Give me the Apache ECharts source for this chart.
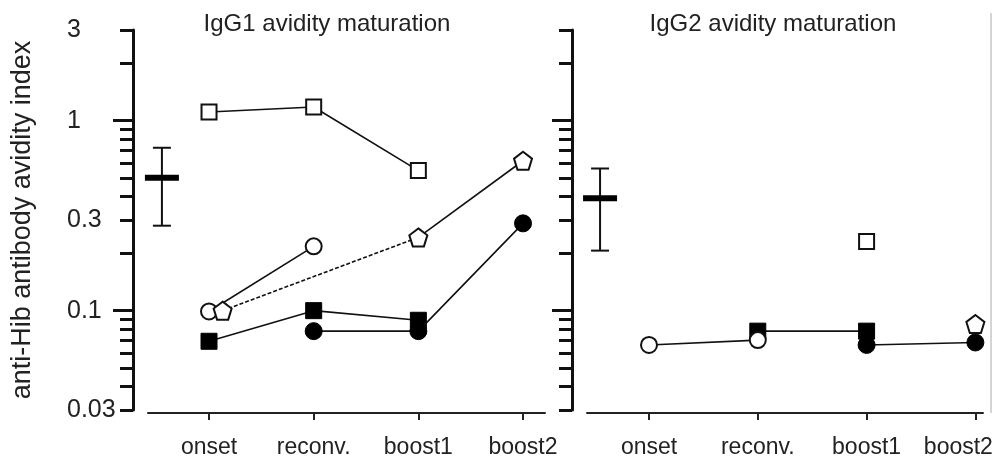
<!DOCTYPE html>
<html>
<head>
<meta charset="utf-8">
<script src="https://cdn.jsdelivr.net/npm/echarts@6/dist/echarts.min.js"></script>
<style>
html,body{margin:0;padding:0;background:#fff;}
#c{width:992px;height:456px;}
</style>
</head>
<body>
<div id="c"></div>
<script>
// ---- data ----
const categories = ['onset', 'reconv.', 'boost1', 'boost2'];
const categoryX = [1, 2, 3, 4];
const yLabelValues = [0.03, 0.1, 0.3, 1, 3];
const yMajorTicks = [0.1, 1];
const yMinorTicks = [0.03, 0.04, 0.05, 0.06, 0.07, 0.08, 0.09,
  0.2, 0.3, 0.4, 0.5, 0.6, 0.7, 0.8, 0.9, 2, 3];

// IgG1 panel (values per category, null = no measurement)
const igg1OpenSquare   = [1.11, 1.18, 0.546, null];
const igg1OpenCircle   = [0.099, 0.218, null, null];
const igg1Pentagon     = [0.1, null, 0.243, 0.615];
const igg1PentagonX    = [1.13, 2, 3, 4];
const igg1FilledSquare = [0.069, 0.1, 0.089, null];
const igg1FilledCircle = [null, 0.078, 0.078, 0.288];
const igg1Reference    = [0.55, 0.5, 0.28, 0.72];   // x, mean, low, high

// IgG2 panel
const igg2OpenCircle   = [0.066, 0.07, null, null];
const igg2FilledSquare = [null, 0.078, 0.078, null];
const igg2FilledCircle = [null, null, 0.066, 0.068];
const igg2OpenSquare   = [null, null, 0.231, null];
const igg2Pentagon     = [null, null, null, 0.085];
const igg2Reference    = [0.55, 0.39, 0.207, 0.56];

// ---- helpers ----
const FONT = '"Liberation Sans", Arial, sans-serif';
const PENTAGON = 'path://M0,-1L0.951,-0.309L0.588,0.809L-0.588,0.809L-0.951,-0.309Z';

function pts(values, xs) {
  xs = xs || categoryX;
  return values.map((v, i) => [xs[i], v === null ? '-' : v]);
}
function nonNull(values, xs) {
  xs = xs || categoryX;
  const out = [];
  values.forEach((v, i) => { if (v !== null) out.push([xs[i], v]); });
  return out;
}

const markerStyles = {
  openSquare:   { symbol: 'rect', symbolSize: 15, itemStyle: { color: '#fff', borderColor: '#111', borderWidth: 2 } },
  openCircle:   { symbol: 'circle', symbolSize: 16, itemStyle: { color: '#fff', borderColor: '#111', borderWidth: 2 } },
  pentagon:     { symbol: PENTAGON, symbolSize: 18, itemStyle: { color: '#fff', borderColor: '#111', borderWidth: 2 } },
  filledSquare: { symbol: 'rect', symbolSize: 16, itemStyle: { color: '#000', borderColor: '#000', borderWidth: 1 } },
  filledCircle: { symbol: 'circle', symbolSize: 17, itemStyle: { color: '#000', borderColor: '#000', borderWidth: 1 } }
};

function lineSeries(name, data, style, gridIdx, z, opts) {
  return Object.assign({
    type: 'line',
    name: name,
    xAxisIndex: gridIdx,
    yAxisIndex: gridIdx * 2,
    data: data,
    connectNulls: false,
    showAllSymbol: true,
    lineStyle: { color: '#111', width: 1.6 },
    z: z,
    animation: false,
    emphasis: { disabled: true }
  }, style, opts || {});
}

function refSeries(ref, gridIdx) {
  return {
    type: 'custom',
    xAxisIndex: gridIdx,
    yAxisIndex: gridIdx * 2,
    data: [ref],
    animation: false,
    renderItem: function (params, api) {
      const x = api.value(0);
      const pm = api.coord([x, api.value(1)]);
      const pl = api.coord([x, api.value(2)]);
      const ph = api.coord([x, api.value(3)]);
      const st = { stroke: '#111', lineWidth: 2 };
      return {
        type: 'group',
        children: [
          { type: 'line', shape: { x1: pl[0], y1: pl[1], x2: ph[0], y2: ph[1] }, style: st },
          { type: 'line', shape: { x1: pl[0] - 9, y1: pl[1], x2: pl[0] + 9, y2: pl[1] }, style: st },
          { type: 'line', shape: { x1: ph[0] - 9, y1: ph[1], x2: ph[0] + 9, y2: ph[1] }, style: st },
          { type: 'rect', shape: { x: pm[0] - 17, y: pm[1] - 3, width: 34, height: 6 }, style: { fill: '#000' } }
        ]
      };
    }
  };
}

function xAxisFor(gridIdx, min, max, shiftLast) {
  return {
    type: 'value', gridIndex: gridIdx, min: min, max: max, offset: 3, position: 'bottom',
    axisLine: { show: true, lineStyle: { color: '#222', width: 2 } },
    axisTick: { show: true, customValues: categoryX, length: 7, lineStyle: { color: '#222', width: 2 } },
    axisLabel: {
      customValues: categoryX, margin: 23, fontSize: 23, color: '#222', fontFamily: FONT,
      hideOverlap: false,
      formatter: function (v) {
        const i = Math.round(v) - 1;
        return (shiftLast && i === categories.length - 1) ? '{last|' + categories[i] + '}' : categories[i];
      },
      rich: { last: { fontSize: 23, color: '#222', fontFamily: FONT, padding: [0, 34, 0, 0] } }
    },
    splitLine: { show: false }
  };
}

function yAxesFor(gridIdx, withLabels) {
  const base = {
    type: 'log', gridIndex: gridIdx, min: 0.029999, max: 3.0001, logBase: 10, offset: 15,
    position: 'left',
    splitLine: { show: false }, minorTick: { show: false }
  };
  const a = Object.assign({}, base, {
    axisLine: { show: true, lineStyle: { color: '#111', width: 3 } },
    axisTick: { show: true, customValues: yMinorTicks, length: 13, lineStyle: { color: '#111', width: 3 } },
    axisLabel: withLabels ? {
      show: true, customValues: yLabelValues, align: 'left', margin: 66, fontSize: 25,
      color: '#222', fontFamily: FONT, padding: [6, 0, 0, 0],
      formatter: function (v) { return String(v); }
    } : { show: false }
  });
  if (withLabels) {
    a.name = 'anti-Hib antibody avidity index';
    a.nameLocation = 'middle';
    a.nameRotate = 90;
    a.nameGap = 97;
    a.nameTextStyle = { fontSize: 27, color: '#222', fontFamily: FONT };
  }
  const b = Object.assign({}, base, {
    axisLine: { show: false },
    axisTick: { show: true, customValues: yMajorTicks, length: 20, lineStyle: { color: '#111', width: 3 } },
    axisLabel: { show: false }
  });
  return [a, b];
}

const series = [
  // IgG1
  refSeries(igg1Reference, 0),
  lineSeries('IgG1 open square', pts(igg1OpenSquare), markerStyles.openSquare, 0, 3),
  lineSeries('IgG1 filled square', pts(igg1FilledSquare), markerStyles.filledSquare, 0, 3),
  lineSeries('IgG1 filled circle', pts(igg1FilledCircle), markerStyles.filledCircle, 0, 4),
  lineSeries('IgG1 open circle', pts(igg1OpenCircle), markerStyles.openCircle, 0, 5),
  lineSeries('IgG1 pentagon dashed', nonNull(igg1Pentagon, igg1PentagonX).slice(0, 2), {}, 0, 2,
    { showSymbol: false, lineStyle: { color: '#111', width: 1.6, type: [4, 2] } }),
  lineSeries('IgG1 pentagon', pts(igg1Pentagon, igg1PentagonX), markerStyles.pentagon, 0, 6),
  // IgG2
  refSeries(igg2Reference, 1),
  lineSeries('IgG2 open square', pts(igg2OpenSquare), markerStyles.openSquare, 1, 3),
  lineSeries('IgG2 filled square', pts(igg2FilledSquare), markerStyles.filledSquare, 1, 3),
  lineSeries('IgG2 filled circle', pts(igg2FilledCircle), markerStyles.filledCircle, 1, 4),
  lineSeries('IgG2 open circle', pts(igg2OpenCircle), markerStyles.openCircle, 1, 5),
  lineSeries('IgG2 pentagon', pts(igg2Pentagon), markerStyles.pentagon, 1, 6)
];

const chart = echarts.init(document.getElementById('c'), null, { renderer: 'canvas' });
chart.setOption({
  animation: false,
  backgroundColor: '#fff',
  textStyle: { fontFamily: FONT },
  title: [
    { text: 'IgG1 avidity maturation', left: 322, top: 7, textAlign: 'center',
      textStyle: { fontSize: 24, fontWeight: 'normal', color: '#222', fontFamily: FONT } },
    { text: 'IgG2 avidity maturation', left: 768, top: 7, textAlign: 'center',
      textStyle: { fontSize: 24, fontWeight: 'normal', color: '#222', fontFamily: FONT } }
  ],
  grid: [
    { left: 148, top: 30, width: 397, height: 380, outerBoundsMode: 'none', containLabel: false },
    { left: 587, top: 30, width: 396, height: 380, outerBoundsMode: 'none', containLabel: false }
  ],
  xAxis: [xAxisFor(0, 0.417, 4.21, false), xAxisFor(1, 0.43, 4.07, true)],
  yAxis: yAxesFor(0, true).concat(yAxesFor(1, false)),
  graphic: [
    { type: 'line', shape: { x1: 991, y1: 13, x2: 991, y2: 413 }, style: { stroke: '#aaa', lineWidth: 1 } }
  ],
  series: series
});
</script>
</body>
</html>
